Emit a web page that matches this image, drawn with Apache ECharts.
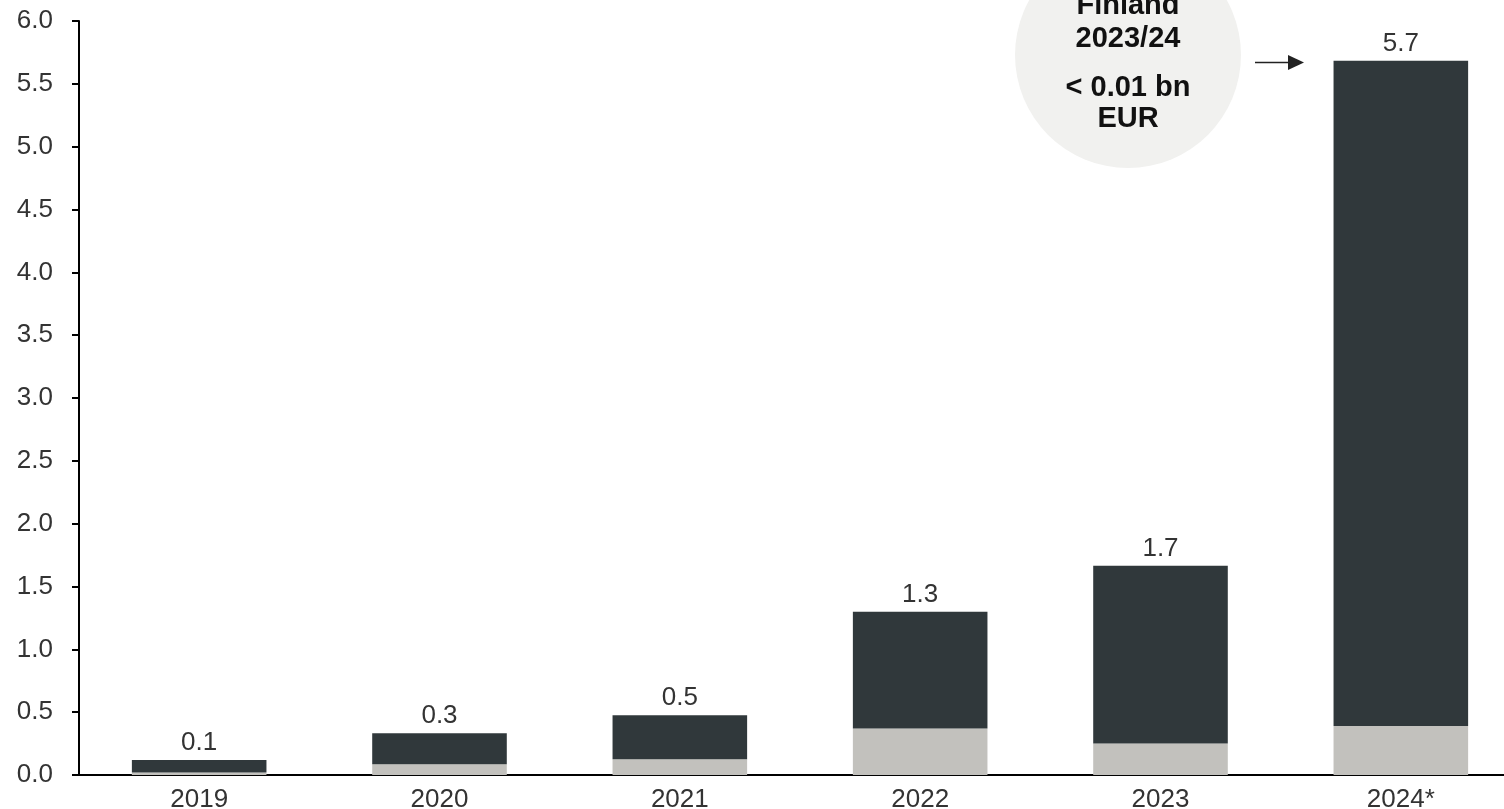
<!DOCTYPE html>
<html>
<head>
<meta charset="utf-8">
<script src="https://cdn.jsdelivr.net/npm/echarts@6/dist/echarts.min.js"></script>
<style>
  html, body { margin: 0; padding: 0; background: #ffffff; }
  #chart { width: 1504px; height: 809px; }
</style>
</head>
<body>
<div id="chart"></div>
<script>
// Yearly values, bn EUR: lower (light) and upper (dark) part of each stacked bar
const years = ['2019', '2020', '2021', '2022', '2023', '2024*'];
const lowerPart = [0.02, 0.085, 0.125, 0.37, 0.25, 0.39];
const upperPart = [0.10, 0.247, 0.351, 0.93, 1.415, 5.294];
const yTicks = { min: 0, max: 6, step: 0.5 };

const totals = years.map((_, i) => lowerPart[i] + upperPart[i]);

const textColor = '#333333';
const fontFamily = '"Liberation Sans", Arial, Helvetica, sans-serif';

const chart = echarts.init(document.getElementById('chart'), null, { renderer: 'canvas' });

chart.setOption({
  animation: false,
  backgroundColor: '#ffffff',
  grid: { left: 79, top: 21, bottom: 34, width: 1442, outerBoundsMode: 'none' },
  xAxis: {
    type: 'category',
    data: years,
    axisLine: { show: true, lineStyle: { color: '#000000', width: 2 } },
    axisTick: { show: false },
    axisLabel: { color: textColor, fontSize: 26, fontFamily: fontFamily, margin: 12 }
  },
  yAxis: {
    type: 'value',
    min: yTicks.min,
    max: yTicks.max,
    interval: yTicks.step,
    axisLine: { show: true, lineStyle: { color: '#000000', width: 2 } },
    axisTick: { show: true, length: 7, lineStyle: { color: '#000000', width: 2 } },
    splitLine: { show: false },
    axisLabel: {
      color: textColor, fontSize: 26, fontFamily: fontFamily, margin: 26,
      formatter: v => v.toFixed(1)
    }
  },
  series: [
    {
      name: 'lower',
      type: 'bar',
      stack: 'total',
      data: lowerPart,
      barWidth: '56%',
      itemStyle: { color: '#c2c1bd' }
    },
    {
      name: 'upper',
      type: 'bar',
      stack: 'total',
      data: upperPart,
      barWidth: '56%',
      itemStyle: { color: '#30383b' },
      label: {
        show: true,
        position: 'top',
        distance: 4,
        color: textColor,
        fontSize: 26,
        fontFamily: fontFamily,
        formatter: p => totals[p.dataIndex].toFixed(1)
      }
    }
  ],
  graphic: [
    {
      type: 'circle',
      shape: { cx: 1128, cy: 55, r: 113 },
      style: { fill: '#f1f1ef' },
      z: 10
    },
    {
      type: 'text',
      x: 1128, y: 22,
      style: {
        text: 'Finland\n2023/24',
        fill: '#111111',
        font: 'bold 29px ' + fontFamily,
        align: 'center',
        verticalAlign: 'middle',
        lineHeight: 33
      },
      z: 11
    },
    {
      type: 'text',
      x: 1128, y: 103,
      style: {
        text: '< 0.01 bn\nEUR',
        fill: '#111111',
        font: 'bold 29px ' + fontFamily,
        align: 'center',
        verticalAlign: 'middle',
        lineHeight: 31
      },
      z: 11
    },
    {
      type: 'line',
      shape: { x1: 1255, y1: 62.5, x2: 1290, y2: 62.5 },
      style: { stroke: '#222222', lineWidth: 1.5 },
      z: 11
    },
    {
      type: 'polygon',
      shape: { points: [[1288, 55], [1304, 62.5], [1288, 70]] },
      style: { fill: '#222222' },
      z: 11
    }
  ]
});
</script>
</body>
</html>
